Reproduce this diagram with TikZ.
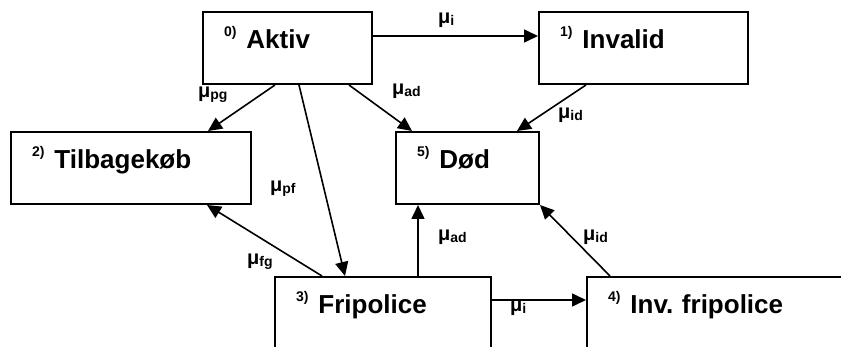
\documentclass[tikz,border=0pt]{standalone}
\usepackage{fontspec}
\setmainfont{Liberation Sans}
\usetikzlibrary{arrows.meta}
\newcommand{\nr}[1]{{\fontsize{14}{14}\selectfont\raisebox{12pt}{#1)}}\hspace{10pt}}
\newcommand{\rate}[1]{μ{\fontsize{14}{14}\selectfont\raisebox{-2pt}{#1}}}
\tikzset{box/.style={draw,rectangle,line width=2pt,anchor=north west,inner xsep=21pt,inner ysep=0pt,
    text height=37pt,text depth=35pt,align=left,font=\fontsize{26}{30}\selectfont\bfseries},
  lbl/.style={inner sep=0pt,anchor=base west,font=\fontsize{20}{20}\selectfont\bfseries},
  trans/.style={-{Triangle[length=14pt,width=13pt]},line width=1.6pt}}

\begin{document}
\begin{tikzpicture}[x=1pt,y=-1pt]
      \useasboundingbox (0,0) rectangle (841,347);
      \clip (0,0) rectangle (841,347);

      \node[box,text width=127pt] (akt) at (202,11) {\nr{0}Aktiv};
      \node[box,text width=167pt] (inv) at (538,11) {\nr{1}Invalid};
      \node[box,text width=198pt] (tb) at (10,131) {\nr{2}Tilbagekøb};
      \node[box,text width=101pt] (dod) at (395,131) {\nr{5}Død};
      \node[box,text width=174pt] (fp) at (274,276) {\nr{3}Fripolice};
      \node[box,text width=228pt] (ifp) at (586,276) {\nr{4}Inv.\ fripolice};

      \draw[trans] ([yshift=12pt]akt.east) -- ([yshift=12pt]inv.west);
      \draw[trans] ([xshift=73pt]akt.south west) -- ([xshift=-44pt]tb.north east);
      \draw[trans] ([xshift=97pt]akt.south west) -- ([xshift=71pt]fp.north west);
      \draw[trans] ([xshift=-24pt]akt.south east) -- ([xshift=17pt]dod.north west);
      \draw[trans] ([xshift=48pt]inv.south west) -- ([xshift=-23pt]dod.north east);
      \draw[trans] ([xshift=48pt]fp.north west) -- ([xshift=-45pt]tb.south east);
      \draw[trans] ([xshift=144pt]fp.north west) -- ([xshift=23pt]dod.south west);
      \draw[trans] ([yshift=13pt]fp.east) -- ([yshift=13pt]ifp.west);
      \draw[trans] ([xshift=24pt]ifp.north west) -- (dod.south east);

      \node[lbl] (ai) at (438,24) {\rate{i}};
      \node[lbl] (apg) at (198,98) {\rate{pg}};
      \node[lbl] (aad) at (392,95) {\rate{ad}};
      \node[lbl] (iid) at (558,119) {\rate{id}};
      \node[lbl] (apf) at (270,192) {\rate{pf}};
      \node[lbl] (ffg) at (247,265) {\rate{fg}};
      \node[lbl] (fad) at (438,241) {\rate{ad}};
      \node[lbl] (fid) at (583,241) {\rate{id}};
      \node[lbl] (fi) at (510,312) {\rate{i}};
\end{tikzpicture}
\end{document}
